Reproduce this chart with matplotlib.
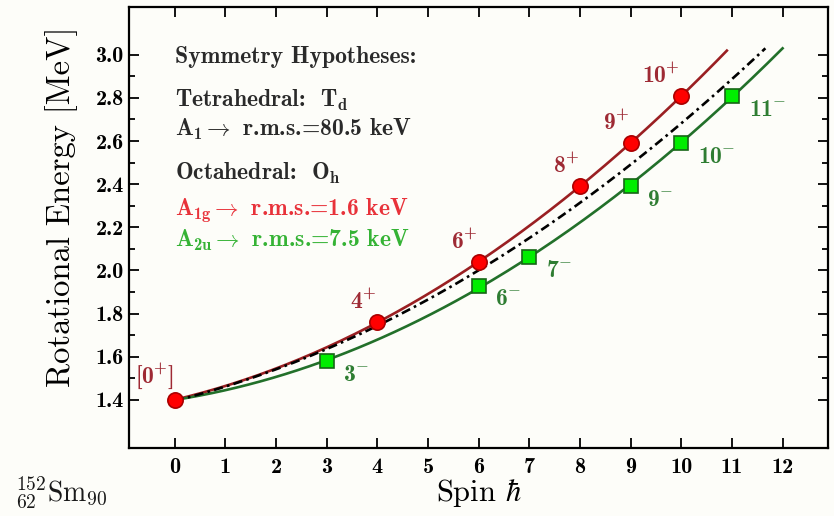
import numpy as np
import matplotlib
matplotlib.use("Agg")
import matplotlib.pyplot as plt
from matplotlib.ticker import FixedLocator, MultipleLocator, FormatStrFormatter

plt.rcParams['font.family'] = 'cmb10'
plt.rcParams['mathtext.fontset'] = 'custom'
plt.rcParams['mathtext.rm'] = 'cmb10'
plt.rcParams['mathtext.bf'] = 'cmb10'
plt.rcParams['mathtext.fallback'] = 'cm'
plt.rcParams['axes.unicode_minus'] = False

# levels of the 152Sm band, spin and energy in MeV
spin_pos = [0, 4, 6, 8, 9, 10]
en_pos = [1.40, 1.76, 2.04, 2.39, 2.59, 2.81]
lab_pos = [r"$[\mathrm{0}^{+}]$", r"$\mathrm{4}^{+}$", r"$\mathrm{6}^{+}$",
           r"$\mathrm{8}^{+}$", r"$\mathrm{9}^{+}$", r"$\mathrm{10}^{+}$"]

spin_neg = [3, 6, 7, 9, 10, 11]
en_neg = [1.58, 1.93, 2.06, 2.39, 2.59, 2.81]
lab_neg = [r"$\mathrm{3}^{-}$", r"$\mathrm{6}^{-}$", r"$\mathrm{7}^{-}$",
           r"$\mathrm{9}^{-}$", r"$\mathrm{10}^{-}$", r"$\mathrm{11}^{-}$"]

# tetrahedral (A1) curve, energies along the fit
spin_td = [0, 3, 6, 9, 11, 11.66]
en_td = [1.40, 1.62, 2.02, 2.48, 2.89, 3.03]

# end points of the fitted curves
xmax_oh_g = 10.9
xmax_oh_u = 12.0

c_line_r = '#9a1f22'
c_text_r = '#9e2a34'
c_line_g = '#22702a'
c_text_g = '#2e7d32'
c_text = '#2a2a2a'

fig = plt.figure(figsize=(8.34, 5.16), dpi=100)
fig.patch.set_facecolor('#fdfdf9')
ax = fig.add_axes([0.155, 0.132, 0.838, 0.855])
ax.set_facecolor('#fdfdf9')

# quadratic fits: A1g (positive parity), A2u (0+ plus negative parity), A1
sp_u = np.array([0] + spin_neg, float)
en_u = np.array([en_pos[0]] + en_neg, float)

fit_g = np.polyfit(spin_pos, en_pos, 2)
fit_u = np.polyfit(sp_u, en_u, 2)
fit_td = np.polyfit(spin_td, en_td, 2)

xg = np.linspace(0, xmax_oh_g, 200)
xu = np.linspace(0, xmax_oh_u, 200)
xa = np.linspace(0, spin_td[-1], 200)

ax.plot(xg, np.polyval(fit_g, xg), color=c_line_r, lw=1.9, zorder=3)
ax.plot(xu, np.polyval(fit_u, xu), color=c_line_g, lw=1.9, zorder=3)
ax.plot(xa, np.polyval(fit_td, xa), color='black', lw=1.9,
        dashes=(3.5, 1.6, 1.0, 1.6), zorder=3)

ax.plot(spin_neg, en_neg, 's', ms=10.5, mfc='#00ee00', mec='#176617',
        mew=1.2, ls='none', zorder=5)
ax.plot(spin_pos, en_pos, 'o', ms=11, mfc='#ff0000', mec='#aa0000',
        mew=1.2, ls='none', zorder=5)

for s, e, t in zip(spin_pos, en_pos, lab_pos):
    ax.annotate(t, (s, e), xytext=(-1, 6), textcoords='offset points',
                ha='right', va='bottom', fontsize=17, color=c_text_r)
for s, e, t in zip(spin_neg, en_neg, lab_neg):
    ax.annotate(t, (s, e), xytext=(12, -10), textcoords='offset points',
                ha='left', va='center', fontsize=17, color=c_text_g)

# hypotheses box
tx = 0.0
fs = 17
ax.text(tx, 2.99, "Symmetry Hypotheses:", fontsize=fs, color=c_text, va='center')
ax.text(tx, 2.787, r"Tetrahedral:  T$_\mathrm{d}$", fontsize=fs, color=c_text, va='center')
ax.text(tx, 2.652, r"A$_1\rightarrow$ r.m.s.=80.5 keV", fontsize=fs, color=c_text, va='center')
ax.text(tx, 2.45, r"Octahedral:  O$_\mathrm{h}$", fontsize=fs, color=c_text, va='center')
ax.text(tx, 2.28, r"A$_\mathrm{1g}\rightarrow$ r.m.s.=1.6 keV", fontsize=fs, color='#e8323a', va='center')
ax.text(tx, 2.14, r"A$_\mathrm{2u}\rightarrow$ r.m.s.=7.5 keV", fontsize=fs, color='#35b335', va='center')

ax.set_xlim(-0.9, 12.9)
ax.set_ylim(1.177, 3.223)
ax.xaxis.set_major_locator(MultipleLocator(1))
ax.yaxis.set_major_locator(FixedLocator(np.round(np.arange(1.4, 3.01, 0.2), 1)))
ax.yaxis.set_minor_locator(FixedLocator(np.round(np.arange(1.5, 2.91, 0.2), 1)))
ax.yaxis.set_major_formatter(FormatStrFormatter('%.1f'))
ax.tick_params(which='both', direction='in', top=True, right=True,
               labelsize=16, width=1.3)
ax.tick_params(axis='x', pad=7)
ax.tick_params(axis='y', pad=4)
ax.tick_params(which='major', length=7)
ax.tick_params(which='minor', length=4)
for sp in ax.spines.values():
    sp.set_linewidth(1.6)

ax.set_xlabel(r"Spin $\hbar$", fontsize=22, labelpad=0, family='cmr10',
              math_fontfamily='cm')
ax.set_ylabel("Rotational Energy [MeV]", fontsize=23.5, family='cmr10')
ax.yaxis.set_label_coords(-0.074, 0.546)

fig.text(0.018, 0.03, r"${}^{152}_{62}\mathrm{Sm}_{90}$", fontsize=20,
         color='#1a1a1a', math_fontfamily='cm')

fig.savefig("out.png", dpi=100, facecolor=fig.get_facecolor())
